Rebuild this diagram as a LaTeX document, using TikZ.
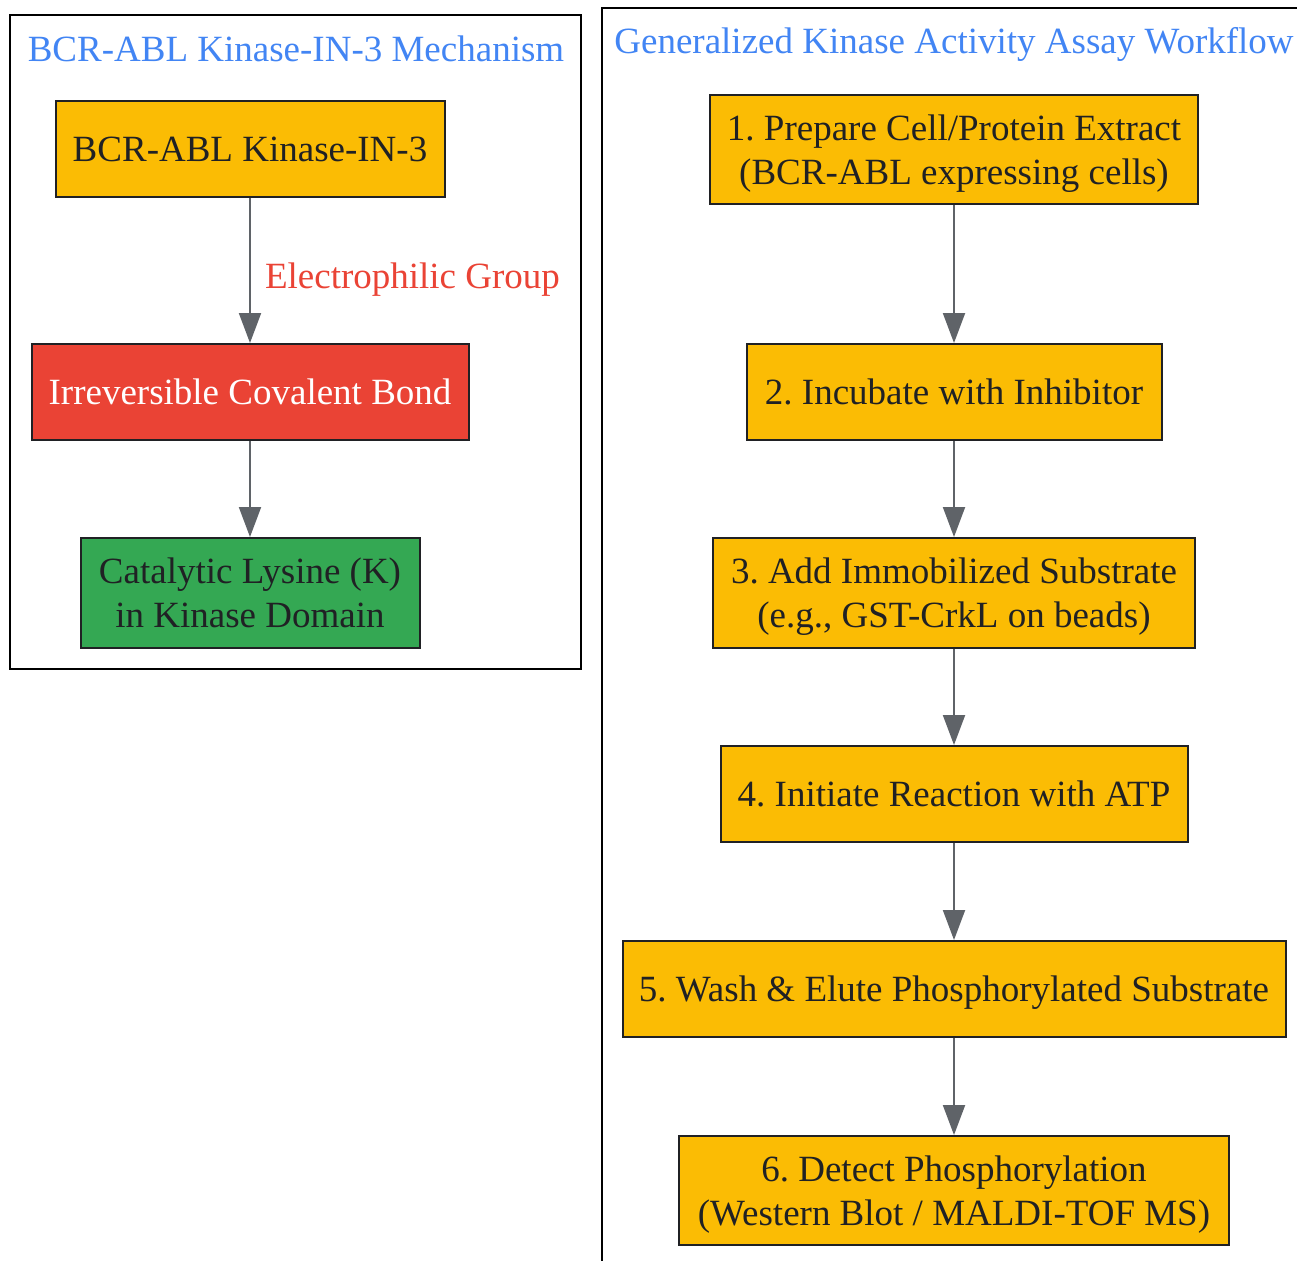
\documentclass[tikz,border=0pt]{standalone}
\usepackage{fontspec}
\setmainfont{Liberation Serif}
\usetikzlibrary{arrows.meta}
\definecolor{gyellow}{HTML}{FBBC04}
\definecolor{gred}{HTML}{EA4335}
\definecolor{ggreen}{HTML}{34A853}
\definecolor{gblue}{HTML}{4285F4}
\definecolor{gtext}{HTML}{202124}
\definecolor{gedge}{HTML}{5F6368}
\frenchspacing
\begin{document}
\frenchspacing
\begin{tikzpicture}[x=1pt,y=-1pt,
  box/.style={draw=gtext, line width=2pt, align=center, font=\fontsize{37}{44}\selectfont\frenchspacing, text=gtext, inner sep=0pt, text depth=0pt, fill=gyellow},
  cluster/.style={draw=black, line width=2.5pt},
  ctitle/.style={font=\fontsize{37}{44}\selectfont, text=gblue, inner sep=0pt},
  edge/.style={draw=gedge, line width=2pt, -{Triangle[length=30pt,width=22pt]}},
  elabel/.style={font=\fontsize{37}{44}\selectfont, text=gred, inner sep=0pt, anchor=west}]
\useasboundingbox (0,0) rectangle (1297,1260);
\fill[white] (0,0) rectangle (1297,1260);
% clusters
\draw[cluster] (10,15) rectangle (581,669);
\draw[cluster] (602,8) rectangle (1308,1275);
\node[ctitle] (t1) at (296,49) {BCR-ABL Kinase-IN-3 Mechanism};
\node[ctitle] (t2) at (954,44) {Generalized Kinase Activity Assay Workflow};
% left nodes
\node[box, minimum width=389pt, minimum height=96pt] (A) at (250,149) {BCR-ABL Kinase-IN-3};
\node[box, fill=gred, text=white, minimum width=437pt, minimum height=96pt] (B) at (250,392) {Irreversible Covalent Bond};
\node[box, fill=ggreen, minimum width=339pt, minimum height=110pt] (C) at (250,593) {Catalytic Lysine (K)\\in Kinase Domain};
% right nodes
\node[box, minimum width=488pt, minimum height=109pt] (S1) at (954,149.5) {1. Prepare Cell/Protein Extract\\(BCR-ABL expressing cells)};
\node[box, minimum width=415pt, minimum height=96pt] (S2) at (954,392) {2. Incubate with Inhibitor};
\node[box, minimum width=482pt, minimum height=110pt] (S3) at (954,593) {3. Add Immobilized Substrate\\(e.g., GST-CrkL on beads)};
\node[box, minimum width=467pt, minimum height=96pt] (S4) at (954,794) {4. Initiate Reaction with ATP};
\node[box, minimum width=663pt, minimum height=96pt] (S5) at (954,989) {5. Wash \& Elute Phosphorylated Substrate};
\node[box, minimum width=550pt, minimum height=109pt] (S6) at (954,1190.5) {6. Detect Phosphorylation\\(Western Blot / MALDI-TOF MS)};
% edges
\draw[edge] (A) -- node[elabel, pos=0.56, xshift=14pt] (L1) {Electrophilic Group} (B);
\draw[edge] (B) -- (C);
\draw[edge] (S1) -- (S2);
\draw[edge] (S2) -- (S3);
\draw[edge] (S3) -- (S4);
\draw[edge] (S4) -- (S5);
\draw[edge] (S5) -- (S6);
\end{tikzpicture}
\end{document}
